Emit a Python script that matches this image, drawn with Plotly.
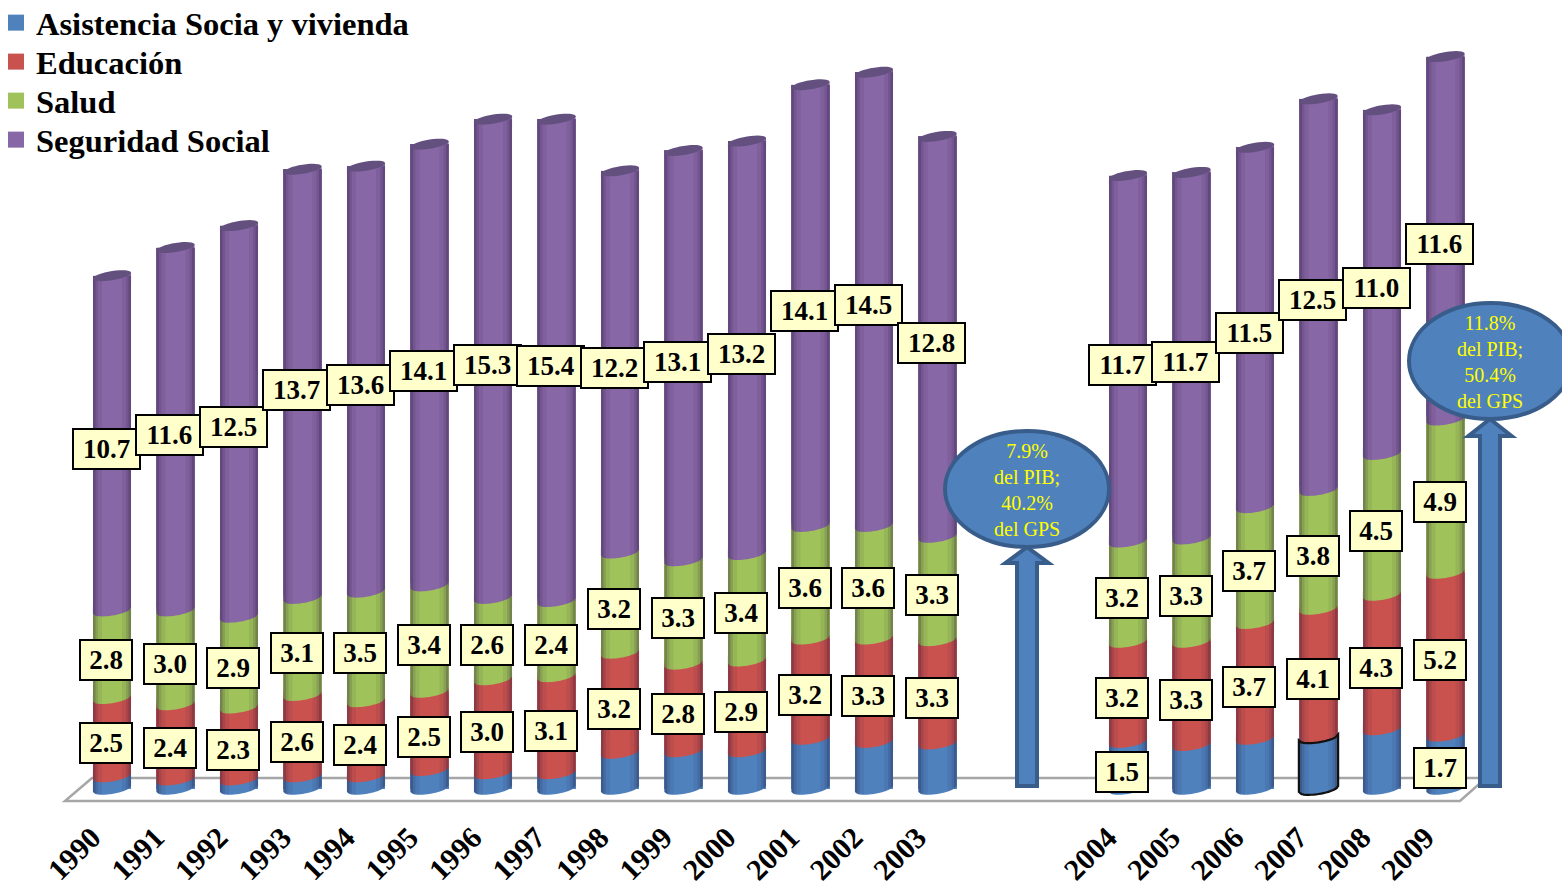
import math
import plotly.graph_objects as go

years = [1990,1991,1992,1993,1994,1995,1996,1997,1998,1999,2000,2001,2002,2003,2004,2005,2006,2007,2008,2009]
asistencia = [0.4,0.3,0.3,0.4,0.4,0.6,0.5,0.5,1.15,1.2,1.2,1.6,1.5,1.45,1.5,1.4,1.6,1.65,1.9,1.7]
educacion = [2.5,2.4,2.3,2.6,2.4,2.5,3.0,3.1,3.2,2.8,2.9,3.2,3.3,3.3,3.2,3.3,3.7,4.1,4.3,5.2]
salud = [2.8,3.0,2.9,3.1,3.5,3.4,2.6,2.4,3.2,3.3,3.4,3.6,3.6,3.3,3.2,3.3,3.7,3.8,4.5,4.9]
seguridad = [10.7,11.6,12.5,13.7,13.6,14.1,15.3,15.4,12.2,13.1,13.2,14.1,14.5,12.8,11.7,11.7,11.5,12.5,11.0,11.6]
series_names = ["Asistencia Socia y vivienda", "Educación", "Salud", "Seguridad Social"]
series_values = [asistencia, educacion, salud, seguridad]
series_colors = ["#4F81BD", "#C9524F", "#A0C25A", "#8767A5"]
asistencia_labeled = [2004, 2009]
callouts = [
    ("7.9%<br>del PIB;<br>40.2%<br>del GPS", 1027, 490, 945, 1109, 431, 547, 563),
    ("11.8%<br>del PIB;<br>50.4%<br>del GPS", 1490, 362, 1409, 1572, 303, 419, 436),
]

W, H = 1562, 886
BASE_PX = 789
PLOT_BOTTOM = 806
PX_PER_UNIT = 31.3
STEP = 63.5
X0 = 112
BAR_W = 0.6
SERIF = "Liberation Serif"
TICK_SHIFT_PX = 20

positions = [i if y < 2004 else i + 2 for i, y in enumerate(years)]
dv = 1 / PX_PER_UNIT
dx = 1 / STEP


def curve(t, bulge=5.0, tilt=3.0):
    return -(bulge * math.sqrt(max(0, 1 - t * t)) - tilt * t) * dv


def fmt(points):
    return "M" + " L".join(f"{x:.4f},{y:.4f}" for x, y in points) + " Z"


def pap(px, py):
    return px / W, (PLOT_BOTTOM - py) / PLOT_BOTTOM


TS = [-1 + i / 8 for i in range(17)]
fig = go.Figure()
for name, vals, col in zip(series_names, series_values, series_colors):
    fig.add_bar(x=positions, y=vals, name=name, marker=dict(color=col, line=dict(width=0)),
                width=BAR_W, showlegend=False)
# legend keys; these also carry the tick-label axis
for n, (name, col) in enumerate(zip(series_names, series_colors)):
    fig.add_scatter(x=[None], y=[None], mode="markers", name=name, xaxis="x2",
                    legend="legend" if n == 0 else f"legend{n + 1}",
                    marker=dict(symbol="square", size=16, color=col))

shapes = []
floor = [pap(65, 801), pap(1460, 801), pap(1486, 778), pap(92, 778)]
shapes.append(dict(type="path", xref="paper", yref="paper", layer="below", path=fmt(floor),
                   fillcolor="white", line=dict(color="#A6A6A6", width=2.5)))

annos = []
for idx, year in enumerate(years):
    cx = positions[idx]
    hw = BAR_W / 2
    level = 0.0
    levels = []
    for s in range(4):
        low = level
        if s > 0:
            pts = [(cx - hw, low - 8 * dv), (cx + hw, low - 8 * dv), (cx + hw, low + 3.5 * dv), (cx - hw, low + 3.5 * dv)]
            shapes.append(dict(type="path", xref="x", yref="y", path=fmt(pts),
                               fillcolor=series_colors[s - 1], line=dict(width=0)))
        pts = [(cx + t * hw, low + curve(t)) for t in TS]
        pts += [(cx + hw, low + 7 * dv), (cx - hw, low + 7 * dv)]
        shapes.append(dict(type="path", xref="x", yref="y", path=fmt(pts),
                           fillcolor=series_colors[s], line=dict(width=0)))
        level += series_values[s][idx]
        levels.append((low, level))
    total = level
    pts = [(cx + t * hw, total + 3 * t * dv) for t in TS] + [(cx + hw, total - 8 * dv), (cx - hw, total - 8 * dv)]
    shapes.append(dict(type="path", xref="x", yref="y", path=fmt(pts),
                       fillcolor=series_colors[3], line=dict(width=0)))
    for a, b, op in [(0, 2.5, 0.20), (0, 5, 0.12), (0, 9, 0.07)]:
        for sign in (-1, 1):
            xa = cx + sign * (hw - a * dx)
            xb = cx + sign * (hw - b * dx)
            ta = sign * (1 - a * dx / hw)
            tb = sign * (1 - b * dx / hw)
            pts = [(xa, curve(ta)), (xb, curve(tb)), (xb, total), (xa, total)]
            shapes.append(dict(type="path", xref="x", yref="y", path=fmt(pts),
                               fillcolor=f"rgba(30,20,50,{op})", line=dict(width=0)))
    pts = []
    for k in range(33):
        ang = 2 * math.pi * k / 32
        t = math.cos(ang)
        pts.append((cx + t * hw, total + (4.6 * math.sin(ang) + 3 * t) * dv))
    shapes.append(dict(type="path", xref="x", yref="y", path=fmt(pts),
                       fillcolor="#64507F", line=dict(width=0)))
    if year == 2007:
        low, top = levels[0]
        outline_pts = [(cx + t * hw * 1.03, curve(t)) for t in TS]
        outline_pts += [(cx + t * hw * 1.03, top + curve(t)) for t in TS[::-1]]
        shapes.append(dict(type="path", xref="x", yref="y", path=fmt(outline_pts),
                           fillcolor="rgba(0,0,0,0)", line=dict(color="#111111", width=2.2)))
    for s in range(4):
        if s == 0 and year not in asistencia_labeled:
            continue
        low, top = levels[s]
        text = f"{series_values[s][idx]:.1f}"
        annos.append(dict(x=cx, y=(low + top) / 2, xref="x", yref="y", text=f"<b>{text}</b>",
                          showarrow=False, xshift=-6, yshift=-6,
                          font=dict(family=SERIF, size=27, color="black"),
                          bgcolor="#FFFFCC", bordercolor="black", borderwidth=2, borderpad=0,
                          width=65 if len(text) == 4 else 50, height=38, align="center", valign="middle"))

for text, tx, ty, ox0, ox1, oy0, oy1, head_y in callouts:
    hw_h, hw_s = 21.5, 10
    arrow = [pap(tx, oy1), pap(tx + hw_h, head_y), pap(tx + hw_s, head_y), pap(tx + hw_s, 786),
             pap(tx - hw_s, 786), pap(tx - hw_s, head_y), pap(tx - hw_h, head_y)]
    shapes.append(dict(type="path", xref="paper", yref="paper", path=fmt(arrow),
                       fillcolor="#4F81BD", line=dict(color="#385D8A", width=4)))
    x0, y1 = pap(ox0, oy0)
    x1, y0 = pap(ox1, oy1)
    shapes.append(dict(type="circle", xref="paper", yref="paper", x0=x0, x1=x1, y0=y0, y1=y1,
                       fillcolor="#4F81BD", line=dict(color="#385D8A", width=4)))
    px, py = pap(tx, ty)
    annos.append(dict(x=px, y=py, xref="paper", yref="paper", text=text, showarrow=False,
                      xanchor="center", yanchor="middle",
                      font=dict(family=SERIF, size=20, color="#FFFF00"), align="center"))

x_range = [-X0 / STEP, (W - X0) / STEP]
legend_font = dict(family=SERIF, size=32.5, color="black", weight="bold")
legends = {}
for n, cy in enumerate([23, 62, 101, 140]):
    key = "legend" if n == 0 else f"legend{n + 1}"
    legends[key] = dict(x=-4 / W, y=(PLOT_BOTTOM - cy) / PLOT_BOTTOM, xanchor="left", yanchor="middle",
                        itemwidth=30, bgcolor="rgba(0,0,0,0)", font=legend_font)

fig.update_layout(
    width=W, height=H, barmode="stack",
    margin=dict(l=0, r=0, t=0, b=H - PLOT_BOTTOM, autoexpand=False),
    paper_bgcolor="white", plot_bgcolor="rgba(0,0,0,0)",
    xaxis=dict(range=x_range, showticklabels=False, ticks="", showgrid=False, zeroline=False, showline=False),
    xaxis2=dict(overlaying="x", side="bottom", anchor="y",
                range=[x_range[0] + TICK_SHIFT_PX / STEP, x_range[1] + TICK_SHIFT_PX / STEP],
                tickmode="array", tickvals=positions, ticktext=[str(y) for y in years],
                tickangle=-45, tickfont=dict(family=SERIF, size=30, color="black", weight="bold"),
                ticks="outside", ticklen=1, tickcolor="rgba(0,0,0,0)", showgrid=False, zeroline=False, showline=False),
    yaxis=dict(range=[-(PLOT_BOTTOM - BASE_PX) / PX_PER_UNIT, BASE_PX / PX_PER_UNIT], visible=False),
    shapes=shapes, annotations=annos, **legends,
)
fig.write_html("out.html", config={"displayModeBar": False},
               post_script="document.body.style.margin='0';")
